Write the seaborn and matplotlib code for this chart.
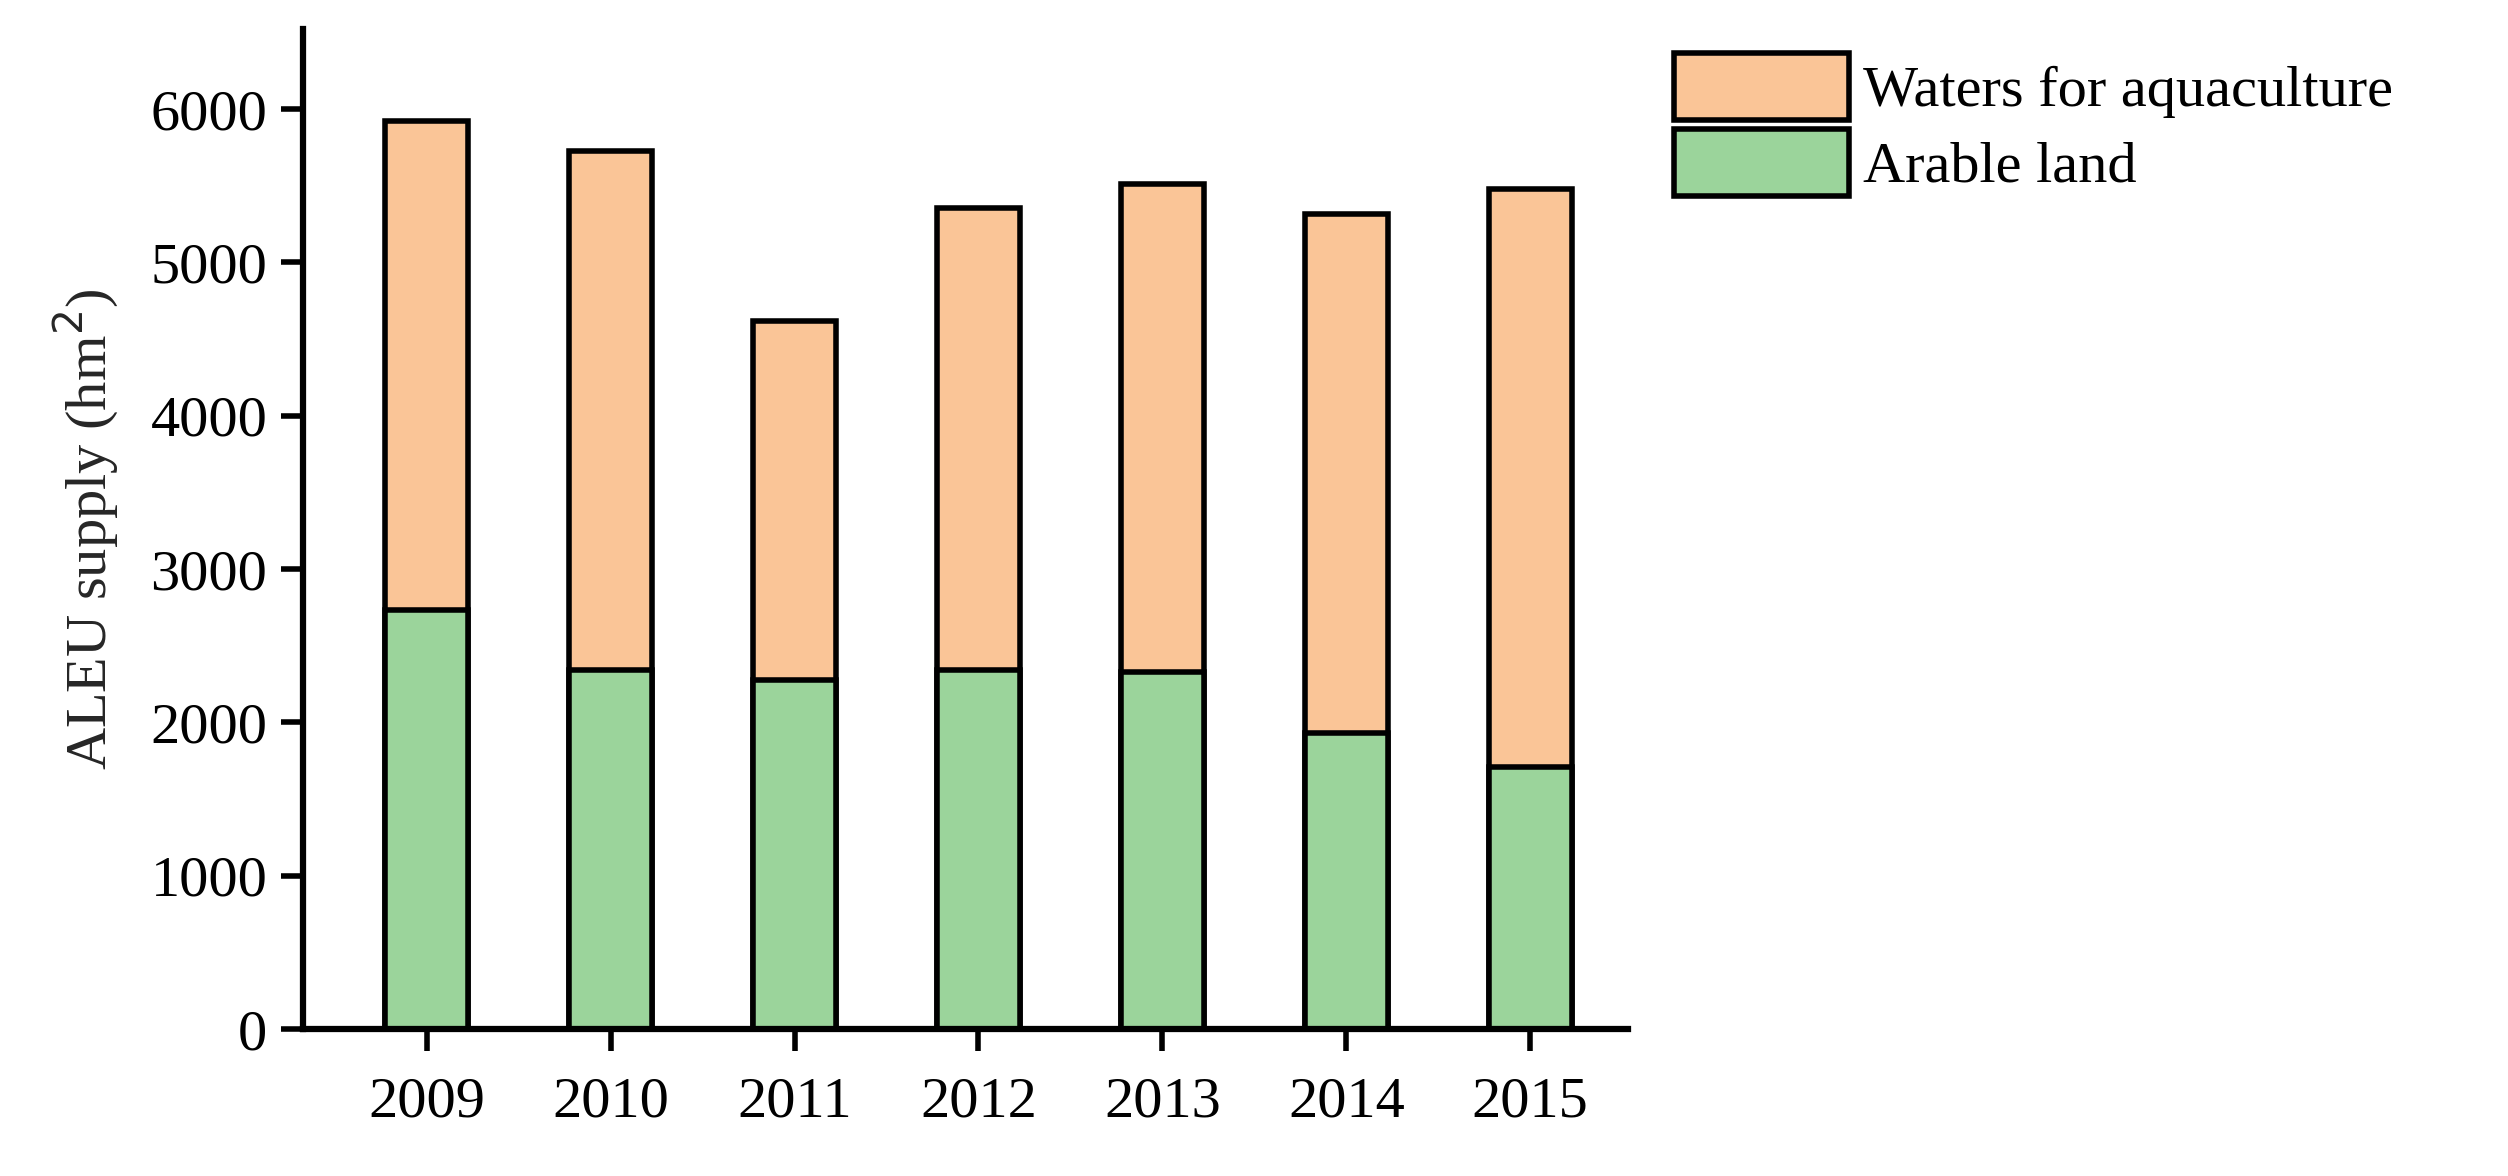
import matplotlib
matplotlib.use("Agg")
import matplotlib.pyplot as plt
import seaborn as sns
import pandas as pd
from matplotlib.patches import Patch

years = ["2009", "2010", "2011", "2012", "2013", "2014", "2015"]
arable = [2735, 2340, 2275, 2340, 2330, 1930, 1710]
totals = [5920, 5730, 4615, 5355, 5510, 5315, 5480]

ORANGE = "#FAC597"
GREEN = "#9BD49B"

sns.set_style("ticks")
plt.rcParams["font.family"] = ["Liberation Serif", "DejaVu Serif"]
plt.rcParams["axes.edgecolor"] = "black"
plt.rcParams["xtick.color"] = "black"
plt.rcParams["ytick.color"] = "black"
plt.rcParams["text.color"] = "black"

df = pd.DataFrame({"year": years, "arable": arable, "total": totals})

fig = plt.figure(figsize=(25.08, 11.76), dpi=100)
ax = fig.add_axes([0.121, 0.125, 0.528, 0.85])

sns.barplot(data=df, x="year", y="total", color=ORANGE, width=0.45,
            edgecolor="black", linewidth=4, saturation=1, ax=ax)
sns.barplot(data=df, x="year", y="arable", color=GREEN, width=0.45,
            edgecolor="black", linewidth=4, saturation=1, ax=ax)

ax.set_xlim(-0.67, 6.53)
ax.set_ylim(0, 6520)
ax.set_yticks(range(0, 7000, 1000))
ax.set_xlabel("")
ax.set_ylabel("ALEU supply (hm$^2$)", fontsize=42, labelpad=22)
ax.tick_params(labelsize=42, width=4, length=16, direction="out", pad=10)
ax.tick_params(axis="x", pad=18)
for s in ["left", "bottom"]:
    ax.spines[s].set_linewidth(4.5)
sns.despine(ax=ax)

handles = [Patch(facecolor=ORANGE, edgecolor="black", linewidth=4, label="Waters for aquaculture"),
           Patch(facecolor=GREEN, edgecolor="black", linewidth=4, label="Arable land")]
fig.legend(handles=handles, loc="upper left", bbox_to_anchor=(0.658, 0.975),
           frameon=False, fontsize=42, handlelength=3.0, handleheight=1.4,
           handletextpad=0.25, labelspacing=0.15, borderaxespad=0)

fig.savefig("out.png", dpi=100, facecolor="white")
